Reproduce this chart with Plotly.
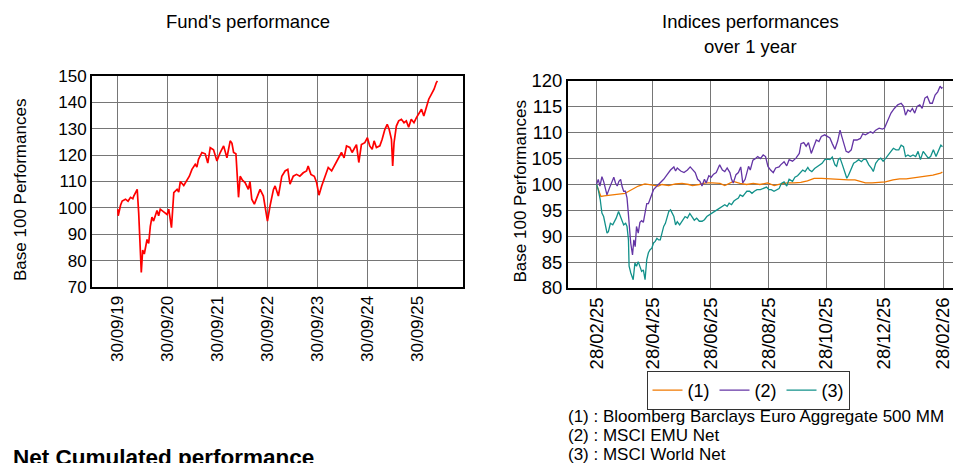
import pandas as pd
import plotly.graph_objects as go

# ---------------- Fund's performance (base 100) ----------------
fund_dates = ["2019-09-30","2019-10-03","2019-10-20","2019-11-01","2019-11-25","2019-12-14","2020-01-01","2020-01-18","2020-01-25","2020-02-19",
              "2020-03-01","2020-03-20","2020-03-30","2020-04-11","2020-05-01","2020-05-13","2020-05-25","2020-06-06","2020-06-18","2020-07-13",
              "2020-07-25","2020-08-06","2020-08-31","2020-09-25","2020-10-07","2020-10-27","2020-11-13","2020-12-07","2020-12-19","2020-12-31",
              "2021-01-25","2021-02-18","2021-03-07","2021-03-26","2021-04-19","2021-05-01","2021-05-13","2021-06-07","2021-07-01","2021-07-20",
              "2021-08-07","2021-08-31","2021-09-25","2021-10-19","2021-11-13","2021-12-07","2021-12-31","2022-01-13","2022-01-25","2022-02-11",
              "2022-02-18","2022-03-02","2022-03-14","2022-03-31","2022-04-19","2022-05-13","2022-05-25","2022-06-07","2022-06-26","2022-07-13",
              "2022-08-07","2022-08-31","2022-09-17","2022-09-30","2022-10-19","2022-11-13","2022-11-25","2022-12-19","2023-01-13","2023-02-06",
              "2023-02-26","2023-03-14","2023-04-07","2023-05-01","2023-05-25","2023-06-19","2023-07-13","2023-07-25","2023-08-14","2023-09-08",
              "2023-09-25","2023-10-12","2023-11-01","2023-11-25","2023-12-19","2024-01-13","2024-02-06","2024-03-01","2024-03-25","2024-04-13",
              "2024-05-01","2024-05-25","2024-06-11","2024-07-01","2024-07-13","2024-07-30","2024-08-18","2024-09-12","2024-10-01","2024-10-18",
              "2024-11-05","2024-11-19","2024-12-06","2024-12-31","2025-01-17","2025-02-06","2025-02-23","2025-03-09","2025-03-26","2025-04-04",
              "2025-04-14","2025-05-01","2025-05-18","2025-06-07","2025-06-26","2025-07-13","2025-07-30","2025-08-18","2025-09-07","2025-09-25",
              "2025-10-12","2025-11-01","2025-11-18","2025-12-07","2025-12-24","2026-01-12","2026-02-01","2026-02-18","2026-02-26"]
fund_values = [99.5, 97.0, 101.0, 102.6, 103.3, 102.5, 104.0, 103.5, 104.5, 107.0,
               98.0, 75.5, 84.0, 82.5, 88.0, 86.5, 93.0, 96.5, 95.0, 99.0,
               97.0, 99.5, 98.5, 97.5, 99.5, 92.5, 105.8, 107.0, 106.0, 110.0,
               108.5, 110.5, 112.0, 114.6, 116.5, 115.5, 118.4, 121.0, 120.5, 117.0,
               122.8, 122.0, 117.8, 121.0, 123.5, 119.0, 125.4, 124.5, 121.0, 120.5,
               113.4, 104.0, 112.0, 110.5, 109.6, 107.0, 110.0, 103.3, 101.4, 103.5,
               107.0, 104.5, 99.5, 95.0, 100.8, 107.0, 108.3, 104.5, 112.0, 114.0,
               114.6, 109.0, 112.0, 112.7, 112.0, 113.3, 114.0, 115.9, 112.7, 112.0,
               109.6, 104.8, 108.3, 112.0, 115.3, 114.0, 116.5, 118.4, 121.0, 119.0,
               123.5, 122.9, 121.0, 122.9, 124.0, 117.2, 124.0, 124.7, 126.6, 123.5,
               122.2, 125.4, 122.9, 123.5, 126.0, 129.8, 131.7, 129.8, 126.0, 115.9,
               124.7, 131.0, 133.0, 133.6, 132.3, 133.0, 130.6, 133.6, 132.3, 134.2,
               135.5, 137.4, 134.8, 138.6, 141.2, 143.0, 145.0, 147.5, 148.1]

fund_tick_dates = ["2019-09-30", "2020-09-30", "2021-09-30", "2022-09-30", "2023-09-30", "2024-09-30", "2025-09-30"]
fund_tick_labels = ["30/09/19", "30/09/20", "30/09/21", "30/09/22", "30/09/23", "30/09/24", "30/09/25"]

# ---------------- Indices performances over 1 year ----------------
index_start = "2025-02-28"   # day 0 of the day offsets below

agg_days = [0, 4.6, 8, 15, 22, 30, 33, 37, 44, 51, 55, 58, 65, 69, 76, 83, 90, 97, 101, 108,
            115, 122, 130, 135, 144, 151, 158, 165, 172, 180, 187, 194, 201, 208, 215, 222, 229, 237, 244, 251,
            258, 265, 272, 279, 283, 290, 297, 304, 312, 319, 326, 333, 340, 347, 354, 362, 364]
agg_values = [100, 97.7, 97.8, 98.0, 98.2, 98.3, 98.6, 99.0, 99.7, 100.1, 100.0, 99.8, 99.7, 100.0, 99.8, 100.1, 100.2, 100.0, 99.8, 100.0,
              100.3, 100.3, 100.2, 99.8, 100.6, 100.2, 100.0, 100.2, 100.0, 100.3, 99.8, 100.1, 100.3, 100.3, 100.4, 100.7, 101.2, 101.2, 101.1, 101.0,
              100.9, 100.9, 100.9, 100.6, 100.3, 100.3, 100.4, 100.5, 100.9, 101.1, 101.1, 101.3, 101.4, 101.7, 101.8, 102.2, 102.4]

emu_days = [0, 1.8, 3.6, 5.7, 7.5, 8.9, 11, 13.6, 16, 18.2, 20, 21.8, 23.6, 25.4, 26.8, 28.6, 30.4, 32.1, 33.2, 34.3,
            36, 37.9, 39.3, 40.7, 42.1, 43.9, 45.7, 47.5, 49.3, 51, 52.9, 54.6, 56.4, 58.2, 60, 63.6, 67.1, 70.7, 74.3, 77.9,
            81.4, 83.2, 85, 88.6, 92.1, 95.7, 98.6, 101, 103.9, 106.4, 108.9, 111, 113.6, 115.4, 118.2, 120.7, 123.2, 126, 129.6, 132.5,
            135, 137.5, 140.4, 142.1, 143.9, 146.8, 149.3, 151.8, 153.9, 156.4, 160, 161.8, 164.6, 167.1, 169.6, 172.5, 175.4, 177.9, 180.4, 183.2,
            186, 188.6, 192.1, 193.8, 197.4, 200.2, 202.7, 206.3, 209.9, 213.4, 215.2, 218.1, 220.6, 223.1, 226, 228.8, 231.3, 234.1, 236.6, 240.2,
            243.1, 245.6, 248.1, 250.9, 253.8, 256.3, 258.1, 261, 262.7, 265.2, 268.1, 270.6, 274.1, 277.7, 280.2, 283.1, 285.9, 288.4, 290.9, 293.8,
            297.4, 300.9, 303.1, 306.3, 309.9, 313.4, 317, 320.6, 323.1, 325.2, 327.7, 330.2, 332.4, 334.9, 337.4, 340.2, 342.7, 345.6, 348.1, 351,
            353.4, 356.3, 359.1, 361.6, 363.1, 364.1]
emu_values = [100, 101, 99.7, 101.5, 100.6, 99.7, 98.0, 99.3, 100.3, 101.4, 100.3, 99.7, 100.6, 101.0, 99.7, 98.7, 98.7, 97.4, 95.1, 92.0,
              88.7, 86.4, 89.3, 88.0, 91.9, 90.6, 92.7, 93.0, 92.7, 94.4, 96.3, 96.3, 97.3, 98.0, 99.0, 99.7, 100.3, 101.0, 101.9, 102.8,
              103.4, 102.6, 103.2, 102.6, 102.3, 102.8, 103.4, 102.8, 102.3, 101.0, 100.6, 99.7, 101.0, 100.3, 101.7, 101.4, 102.0, 102.3, 103.8, 102.8,
              102.5, 103.2, 102.3, 101.0, 100.3, 101.9, 102.3, 103.4, 100.3, 101.0, 103.5, 102.8, 104.7, 105.0, 105.4, 105.0, 105.7, 105.4, 103.5, 102.8,
              102.3, 103.2, 103.4, 103.8, 104.4, 103.6, 104.8, 104.5, 105.1, 106.0, 107.9, 108.1, 107.4, 108.1, 106.0, 107.4, 108.6, 108.3, 109.3, 109.6,
              109.3, 109.0, 107.9, 106.8, 108.4, 110.5, 109.3, 107.7, 106.4, 106.2, 106.7, 108.6, 108.6, 108.9, 109.8, 109.6, 109.9, 110.2, 109.9, 110.5,
              110.9, 110.7, 110.9, 112.2, 113.8, 114.7, 115.4, 115.7, 115.1, 113.4, 114.4, 114.1, 114.7, 113.8, 115.1, 115.4, 114.7, 116.7, 117.0, 115.7,
              115.7, 117.3, 117.9, 119.0, 118.6, 118.8]

world_days = [0, 1.8, 3.9, 5.7, 7.5, 8.9, 11.1, 12.5, 14.6, 17.1, 18.9, 20.7, 23.2, 25.4, 26.8, 28.6, 30.7, 32.1, 33.6, 34.3,
              36.1, 38.6, 40.4, 42.1, 43.9, 45.7, 47.5, 49.3, 51.1, 52.9, 54.6, 56.4, 58.2, 60, 61.8, 63.6, 65.4, 67.1, 68.9, 70.7,
              72.5, 74.3, 76.1, 77.9, 79.6, 81.4, 83.2, 85, 87.5, 90.4, 93.2, 95.7, 98.2, 100.4, 102.9, 105.4, 108.2, 111.1, 113.6, 116.1,
              118.9, 121.8, 124.3, 126.8, 129.6, 132.5, 135, 137.5, 139.6, 142.1, 144.6, 146.8, 149.3, 151.1, 153.9, 156.4, 158.2, 161.1, 163.6, 166.1,
              168.9, 172.5, 176.1, 178.9, 181.4, 183.9, 186.8, 189.6, 192.1, 194.5, 197.4, 200.2, 202.7, 206.3, 208.8, 211.6, 214.5, 217, 219.5, 222.4,
              224.1, 226.6, 229.5, 232.4, 234.9, 237.4, 240.2, 243.1, 245.6, 248.1, 250.9, 252.7, 254.5, 256.3, 258.8, 260.9, 263.4, 265.2, 268.1, 270.6,
              273.1, 275.9, 278.8, 281.3, 283.8, 286.6, 289.5, 291.3, 293.8, 296.6, 299.1, 301.6, 304.5, 307.4, 309.9, 312.4, 315.2, 318.1, 320.6, 323.1,
              325.2, 327.7, 330.2, 333.1, 335.9, 338.4, 340.9, 343.8, 346.6, 349.1, 351.6, 354.5, 357.3, 359.9, 362.4, 364.1]
world_values = [100, 99.0, 97.1, 94.5, 93.8, 92.5, 90.6, 90.9, 92.5, 92.2, 92.8, 93.5, 94.8, 93.8, 93.2, 92.2, 92.5, 91.9, 89.3, 84.2,
                82.9, 81.6, 84.8, 84.2, 85.1, 84.2, 83.2, 83.5, 81.6, 85.5, 86.8, 87.4, 87.7, 88.7, 89.0, 89.6, 89.3, 89.3, 90.6, 91.9,
                92.5, 93.8, 94.8, 95.1, 94.4, 93.8, 92.2, 92.8, 92.2, 93.1, 93.8, 93.5, 94.4, 93.8, 93.1, 93.5, 92.9, 92.9, 93.2, 93.8,
                94.2, 94.5, 94.8, 95.1, 95.4, 95.8, 96.1, 95.8, 96.4, 96.1, 96.8, 97.1, 97.4, 98.0, 97.7, 98.3, 98.7, 98.7, 98.3, 98.7,
                99.0, 99.0, 99.3, 99.5, 99.0, 99.0, 98.7, 99.0, 99.2, 100.2, 100.5, 99.7, 101.0, 100.6, 101.4, 101.7, 102.2, 102.8, 102.5, 103.3,
                102.8, 102.5, 103.1, 103.5, 103.8, 104.1, 104.8, 104.9, 104.8, 105.3, 103.8, 103.5, 104.8, 105.1, 103.8, 102.5, 101.2, 101.8, 103.1, 104.1,
                104.4, 104.8, 104.4, 104.9, 104.8, 103.8, 103.1, 102.5, 104.1, 104.8, 105.1, 104.5, 105.1, 105.7, 106.4, 107.0, 106.7, 106.7, 107.6, 107.3,
                105.4, 105.7, 105.4, 105.7, 105.4, 106.4, 104.8, 106.4, 105.7, 105.1, 105.4, 106.7, 105.4, 106.4, 107.6, 107.3]

index_names = ["(1)", "(2)", "(3)"]
index_full_names = ["Bloomberg Barclays Euro Aggregate 500 MM", "MSCI EMU Net", "MSCI World Net"]
index_tick_dates = ["2025-02-28", "2025-04-28", "2025-06-28", "2025-08-28", "2025-10-28", "2025-12-28", "2026-02-28"]
index_tick_labels = ["28/02/25", "28/04/25", "28/06/25", "28/08/25", "28/10/25", "28/12/25", "28/02/26"]

for a, b in [(fund_dates, fund_values), (agg_days, agg_values), (emu_days, emu_values), (world_days, world_values)]:
    assert len(a) == len(b), (len(a), len(b))

def to_dates(days):
    return pd.Timestamp(index_start) + pd.to_timedelta(days, unit="D")

FONT = "Liberation Sans, Arial, sans-serif"
W, H = 961, 463          # figure size
OX, OY = 8, 8            # page (body) margin offset of the plot div

def px(x):               # screen x -> paper fraction
    return (x - OX) / W

def py(y):               # screen y -> paper fraction
    return 1 - (y - OY) / H

GRID = "#767676"

fig = go.Figure()
fig.add_trace(go.Scatter(x=pd.to_datetime(fund_dates), y=fund_values, mode="lines",
                         line=dict(color="#ff0000", width=1.7), showlegend=False,
                         name="Fund", xaxis="x", yaxis="y"))

index_colors = ["#f07800", "#6435a5", "#12918a"]
for name, days, vals, col in zip(index_names, [agg_days, emu_days, world_days],
                                 [agg_values, emu_values, world_values], index_colors):
    fig.add_trace(go.Scatter(x=to_dates(days), y=vals, mode="lines", name=name,
                             line=dict(color=col, width=1.3), xaxis="x2", yaxis="y2"))

axis_common = dict(showgrid=True, gridcolor=GRID, gridwidth=1, zeroline=False, automargin=False,
                   showline=True, linecolor="black", linewidth=2, ticks="",
                   tickfont=dict(family=FONT, size=17, color="black"))

fig.update_layout(
    template="none",
    width=W, height=H,
    margin=dict(l=0, r=0, t=0, b=0, pad=0),
    paper_bgcolor="white", plot_bgcolor="white",
    font=dict(family=FONT, color="black"),
    xaxis=dict(axis_common, domain=[px(92), px(463)], type="date",
               range=["2019-03-25", "2026-09-01"],
               tickvals=fund_tick_dates, ticktext=fund_tick_labels, tickangle=-90,
               mirror=True, anchor="y"),
    yaxis=dict(axis_common, domain=[py(287), py(76)], range=[70, 150], dtick=10,
               mirror=True, anchor="x"),
    xaxis2=dict(axis_common, domain=[px(568), 1.0], type="date",
                range=["2025-01-29", "2026-03-27"],
                tickvals=index_tick_dates, ticktext=index_tick_labels, tickangle=-90,
                tickfont=dict(family=FONT, size=18.5, color="black"),
                mirror=True, anchor="y2"),
    yaxis2=dict(axis_common, domain=[py(288), py(81)], range=[80, 120], dtick=5,
                tickfont=dict(family=FONT, size=18.5, color="black"),
                mirror=False, anchor="x2"),
    legend=dict(orientation="h", x=px(748), xanchor="center", y=py(371), yanchor="top",
                bordercolor="#333333", borderwidth=1, bgcolor="white",
                font=dict(family=FONT, size=18, color="black"), itemwidth=30),
)

ann = []
ann.append(dict(text="Fund's performance", x=px(248), y=py(22), font=dict(size=18.5)))
ann.append(dict(text="Indices performances", x=px(750), y=py(22), font=dict(size=18.5)))
ann.append(dict(text="over 1 year", x=px(750), y=py(47), font=dict(size=18.5)))
ann.append(dict(text="Base 100 Performances", x=px(20), y=py(190), textangle=-90, font=dict(size=17)))
ann.append(dict(text="Base 100 Performances", x=px(519.5), y=py(192), textangle=-90, font=dict(size=17)))
for i, (short, full) in enumerate(zip(index_names, index_full_names)):
    ann.append(dict(text=f"{short} : {full}", x=px(566), y=py(416 + 19 * i),
                    xanchor="left", font=dict(size=17)))
ann.append(dict(text="<b>Net Cumulated performance</b>", x=px(11), y=py(457),
                xanchor="left", font=dict(size=22.5)))

for a in ann:
    a.setdefault("xanchor", "center")
    a.update(xref="paper", yref="paper", yanchor="middle", showarrow=False)
    a["font"] = dict(family=FONT, color="black", **a["font"])
fig.update_layout(annotations=ann)

fig.write_html("out.html")
